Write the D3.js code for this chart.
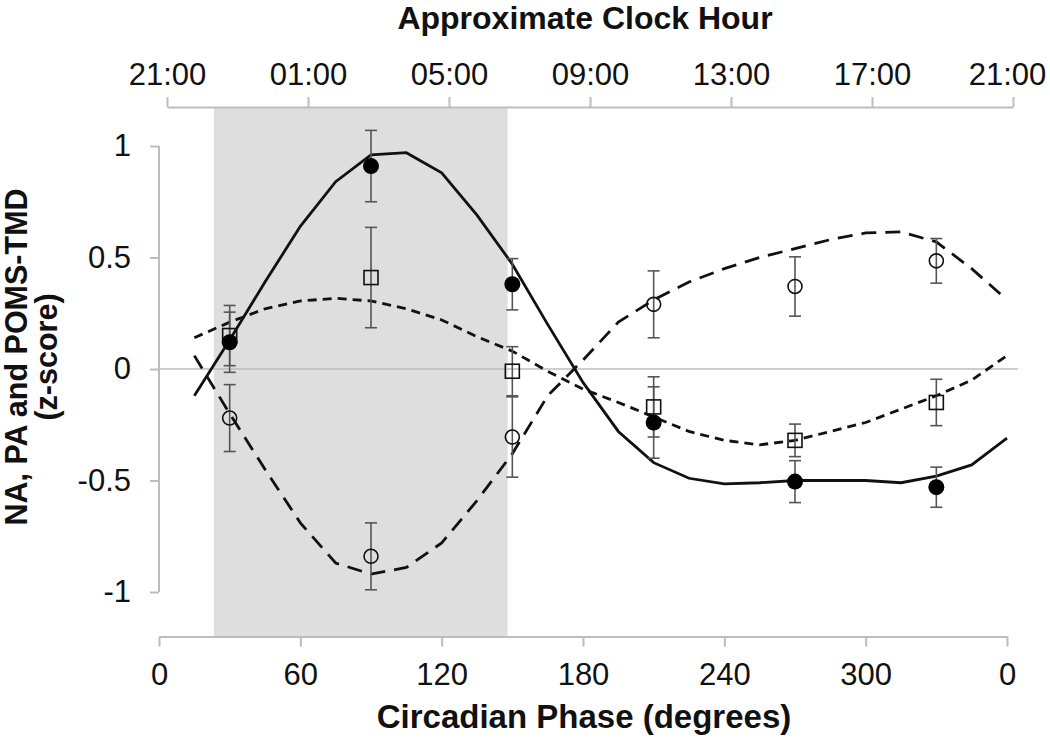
<!DOCTYPE html>
<html>
<head>
<meta charset="utf-8">
<script src="https://cdn.jsdelivr.net/npm/d3@7"></script>
<style>
  html, body { margin: 0; padding: 0; background: #ffffff; }
  svg { display: block; font-family: "Liberation Sans", Arial, sans-serif; }
</style>
</head>
<body>
<svg id="chart" width="1050" height="740"></svg>
<script>
// ---------------- data ----------------
const phaseTicks = [0, 60, 120, 180, 240, 300, 360];
const clockTicks = [21, 25, 29, 33, 37, 41, 45];           // hours after midnight (45 = 21:00 next day)
const yTicks = [-1, -0.5, 0, 0.5, 1];
const sleepWindow = [23.3, 148];                            // shaded band, circadian degrees

const samplePhases = [30, 90, 150, 210, 270, 330];

// filled circles
const filledMean = [0.12, 0.91, 0.38, -0.24, -0.505, -0.53];
const filledErr  = [0.135, 0.16, 0.115, 0.16, 0.094, 0.09];
// open squares
const squareMean = [0.15, 0.41, -0.01, -0.17, -0.32, -0.15];
const squareErr  = [0.135, 0.225, 0.11, 0.135, 0.073, 0.104];
// open circles
const openMean = [-0.22, -0.84, -0.305, 0.29, 0.37, 0.485];
const openErr  = [0.15, 0.15, 0.18, 0.15, 0.133, 0.10];

// fitted curves, read at 15-degree steps
const curvePhases = [15, 30, 45, 60, 75, 90, 105, 120, 135, 150, 165, 180, 195, 210, 225, 240, 255, 270, 285, 300, 315, 330, 345, 360];
const filledFit = [-0.12, 0.13, 0.39, 0.64, 0.84, 0.96, 0.97, 0.88, 0.69, 0.47, 0.20, -0.06, -0.28, -0.42, -0.49, -0.515, -0.51, -0.50, -0.50, -0.50, -0.51, -0.48, -0.43, -0.31];
const squareFit = [0.14, 0.21, 0.27, 0.305, 0.317, 0.305, 0.27, 0.22, 0.145, 0.08, -0.01, -0.09, -0.15, -0.215, -0.28, -0.32, -0.34, -0.32, -0.28, -0.24, -0.18, -0.12, -0.05, 0.06];
const openFit   = [0.06, -0.2, -0.45, -0.69, -0.87, -0.92, -0.89, -0.78, -0.59, -0.38, -0.12, 0.04, 0.21, 0.31, 0.39, 0.45, 0.50, 0.54, 0.58, 0.61, 0.615, 0.57, 0.45, 0.31];

// ---------------- drawing ----------------
const svg = d3.select("#chart");
const axisColor = "#bdbdbd";
const tickFont = 31;

const x = d3.scaleLinear().domain([0, 360]).range([159, 1007]);
const xTop = d3.scaleLinear().domain([21, 45]).range([167, 1013]);
const y = d3.scaleLinear().domain([-1.2, 1.2]).range([636.6, 101.4]);
const topAxisY = 107;

// shaded sleep band
svg.append("rect")
  .attr("x", x(sleepWindow[0]))
  .attr("y", topAxisY)
  .attr("width", x(sleepWindow[1]) - x(sleepWindow[0]))
  .attr("height", y(-1.2) - topAxisY)
  .attr("fill", "#dedede");

// zero line
svg.append("line")
  .attr("x1", x(0)).attr("x2", 1018)
  .attr("y1", y(0)).attr("y2", y(0))
  .attr("stroke", axisColor).attr("stroke-width", 1.5);

// axes
function styleAxis(g) {
  g.selectAll("path.domain").attr("stroke", axisColor).attr("stroke-width", 2);
  g.selectAll(".tick line").attr("stroke", axisColor).attr("stroke-width", 2);
  g.selectAll(".tick text").attr("fill", "#111").attr("font-size", tickFont)
    .attr("font-family", "Liberation Sans, Arial, sans-serif");
}

const bottomAxis = d3.axisBottom(x).tickValues(phaseTicks).tickFormat(d => d % 360)
  .tickSize(10).tickSizeOuter(0).tickPadding(16);
svg.append("g").attr("transform", `translate(0,${y(-1.2)})`).call(bottomAxis).call(styleAxis);

const topAxis = d3.axisTop(xTop).tickValues(clockTicks)
  .tickFormat(h => String(h % 24).padStart(2, "0") + ":00")
  .tickSize(10).tickSizeOuter(0).tickPadding(12);
const gt = svg.append("g").attr("transform", `translate(0,${topAxisY})`).call(topAxis).call(styleAxis);
// keep the last clock label inside the frame, as in the reference
gt.selectAll(".tick text").filter(d => d === 45).attr("dx", -6);

const leftAxis = d3.axisLeft(y).tickValues(yTicks).tickFormat(d => d)
  .tickSize(9).tickSizeOuter(0).tickPadding(19);
const gl = svg.append("g").attr("transform", `translate(${x(0)},0)`).call(leftAxis).call(styleAxis);
gl.select("path.domain").remove();
gl.append("line").attr("x1", 0).attr("x2", 0).attr("y1", y(1)).attr("y2", y(-1))
  .attr("stroke", axisColor).attr("stroke-width", 2);

// titles
svg.append("text").attr("x", 585).attr("y", 29).attr("text-anchor", "middle")
  .attr("font-size", 32).attr("font-weight", "bold").attr("fill", "#111")
  .text("Approximate Clock Hour");
svg.append("text").attr("x", 584).attr("y", 728).attr("text-anchor", "middle")
  .attr("font-size", 33).attr("font-weight", "bold").attr("fill", "#111")
  .text("Circadian Phase (degrees)");
const yt = svg.append("g").attr("transform", "translate(0,357) rotate(-90)");
yt.append("text").attr("x", 0).attr("y", 27).attr("text-anchor", "middle")
  .attr("font-size", 30.5).attr("font-weight", "bold").attr("fill", "#111")
  .text("NA, PA and POMS-TMD");
yt.append("text").attr("x", 0).attr("y", 57).attr("text-anchor", "middle")
  .attr("font-size", 30.5).attr("font-weight", "bold").attr("fill", "#111")
  .text("(z-score)");

// curves
const line = d3.line().x(d => x(d[0])).y(d => y(d[1]));
function drawCurve(vals, dash) {
  svg.append("path")
    .datum(curvePhases.map((p, i) => [p, vals[i]]))
    .attr("d", line)
    .attr("fill", "none")
    .attr("stroke", "#111")
    .attr("stroke-width", 2.8)
    .attr("stroke-dasharray", dash);
}
drawCurve(filledFit, null);
drawCurve(squareFit, "9,6");
drawCurve(openFit, "15,9");

// error bars
function drawErr(means, errs) {
  const g = svg.append("g").attr("stroke", "#555").attr("stroke-width", 1.6);
  samplePhases.forEach((p, i) => {
    const cx = x(p), top = y(means[i] + errs[i]), bot = y(means[i] - errs[i]);
    g.append("line").attr("x1", cx).attr("x2", cx).attr("y1", top).attr("y2", bot);
    g.append("line").attr("x1", cx - 6).attr("x2", cx + 6).attr("y1", top).attr("y2", top);
    g.append("line").attr("x1", cx - 6).attr("x2", cx + 6).attr("y1", bot).attr("y2", bot);
  });
}
drawErr(openMean, openErr);
drawErr(squareMean, squareErr);
drawErr(filledMean, filledErr);

// markers
svg.append("g").selectAll("circle.open").data(samplePhases).join("circle")
  .attr("cx", d => x(d)).attr("cy", (d, i) => y(openMean[i])).attr("r", 7)
  .attr("fill", "none").attr("stroke", "#111").attr("stroke-width", 1.6);
svg.append("g").selectAll("rect").data(samplePhases).join("rect")
  .attr("x", d => x(d) - 7).attr("y", (d, i) => y(squareMean[i]) - 7)
  .attr("width", 14).attr("height", 14)
  .attr("fill", "none").attr("stroke", "#111").attr("stroke-width", 1.6);
svg.append("g").selectAll("circle.filled").data(samplePhases).join("circle")
  .attr("cx", d => x(d)).attr("cy", (d, i) => y(filledMean[i])).attr("r", 8)
  .attr("fill", "#000");
</script>
</body>
</html>
